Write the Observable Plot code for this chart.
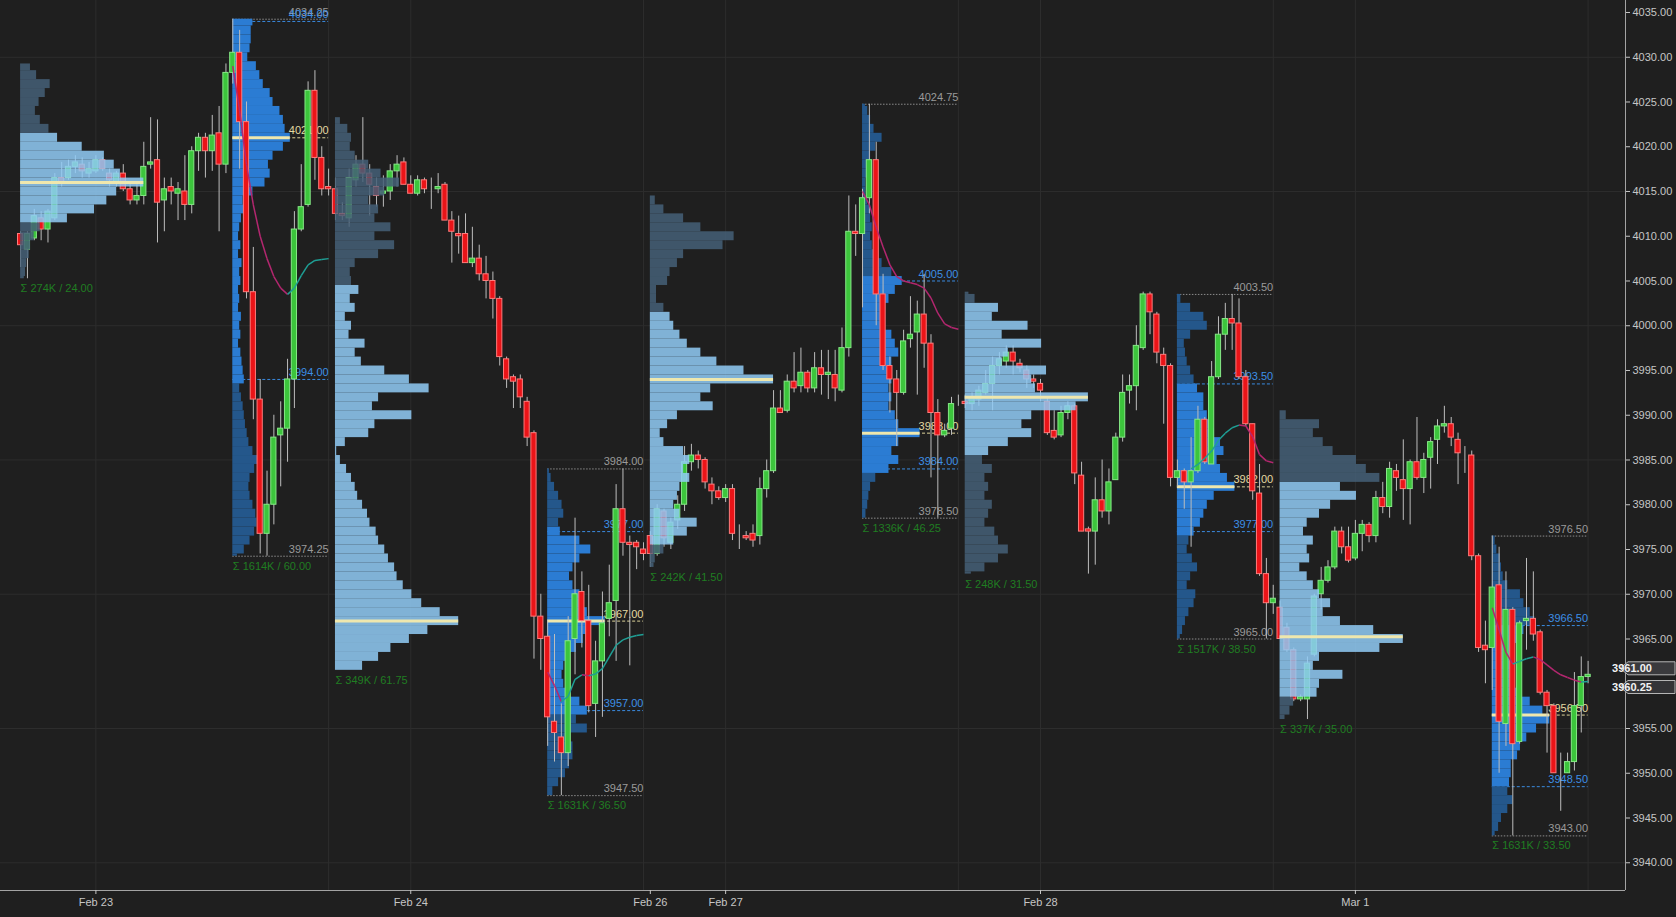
<!DOCTYPE html>
<html><head><meta charset="utf-8">
<script src="https://cdn.jsdelivr.net/npm/d3@7"></script>
<script src="https://cdn.jsdelivr.net/npm/@observablehq/plot@0.6"></script>
<style>
html,body{margin:0;padding:0;background:#1f1f1f;overflow:hidden}
</style></head><body><div id="chart"></div>
<script>
// ---------- DATA ----------
// 30-minute bars: [open, high, low, close], bar index = array index
const ohlc = [
[4010.25,4010.5,4006.5,4009.0],[4008.5,4010.5,4005.25,4010.25],[4009.75,4013.0,4009.5,4012.25],[4012.0,4012.75,4009.5,4010.75],
[4010.75,4013.0,4009.25,4012.75],[4012.0,4017.0,4011.75,4016.5],[4016.5,4018.25,4015.5,4016.0],[4016.5,4018.5,4016.25,4017.75],
[4017.75,4019.0,4017.0,4018.25],[4018.0,4018.75,4016.5,4017.25],[4017.0,4018.25,4016.5,4017.5],[4017.25,4019.0,4017.0,4018.5],
[4018.5,4018.75,4017.25,4017.5],[4017.0,4017.5,4015.5,4016.25],[4016.0,4017.25,4015.5,4017.0],[4017.0,4018.0,4015.0,4015.25],
[4015.25,4016.0,4013.5,4014.0],[4014.0,4015.75,4013.5,4014.5],[4014.5,4020.5,4013.5,4017.75],[4018.0,4023.25,4017.5,4018.25],
[4018.5,4023.0,4009.25,4013.75],[4014.0,4016.5,4010.5,4015.25],[4015.5,4016.5,4013.5,4015.0],[4014.75,4016.0,4011.75,4015.25],
[4015.0,4019.0,4011.75,4013.5],[4013.5,4020.0,4012.5,4019.5],[4019.5,4021.5,4017.25,4021.0],[4021.0,4021.5,4016.5,4019.5],
[4019.5,4023.5,4017.25,4021.25],[4021.5,4024.5,4010.5,4018.0],[4018.0,4029.25,4017.0,4028.25],
[4028.25,4034.25,4027.0,4030.5],[4030.5,4033.0,4017.5,4022.75],[4022.75,4025.0,4003.0,4003.75],[4003.75,4008.75,3989.5,3991.75],
[3991.75,3994.0,3974.5,3976.75],[3976.75,3983.75,3974.25,3980.0],[3980.0,3990.0,3977.75,3987.5],[3987.75,3991.5,3982.0,3988.5],
[3988.5,3996.25,3984.75,3994.0],[3994.0,4012.75,3990.75,4010.75],[4010.75,4018.0,4010.5,4013.25],[4013.5,4027.25,4013.25,4026.25],
[4026.25,4028.5,4016.25,4018.75],[4018.75,4020.0,4014.5,4015.25],[4015.5,4017.5,4014.5,4015.25],
[4015.25,4016.5,4011.75,4012.5],[4012.5,4013.75,4011.75,4012.25],[4012.0,4017.5,4011.0,4016.5],[4016.25,4019.0,4015.5,4018.0],
[4018.0,4023.25,4016.0,4017.0],[4017.0,4018.0,4012.25,4015.75],[4015.5,4016.5,4013.25,4014.5],[4014.75,4016.75,4013.25,4015.0],
[4015.0,4018.0,4014.0,4017.25],[4017.25,4019.0,4015.5,4018.0],[4018.25,4018.75,4015.75,4015.75],[4015.75,4016.75,4014.75,4014.75],
[4014.75,4016.75,4014.5,4016.25],[4016.25,4016.5,4014.75,4015.25],[4015.25,4016.5,4013.0,4015.25],[4015.25,4017.0,4014.75,4015.5],
[4015.75,4016.0,4011.75,4011.75],[4011.75,4012.75,4007.0,4010.5],[4010.25,4012.25,4008.0,4010.0],[4010.25,4012.5,4007.0,4007.0],
[4007.0,4011.0,4006.5,4007.5],[4007.5,4009.0,4005.0,4005.75],[4005.75,4007.75,4003.0,4005.0],[4005.0,4006.0,4000.75,4003.0],
[4003.0,4003.25,3995.5,3996.5],[3996.25,3996.5,3993.0,3994.0],[3994.25,3994.5,3990.75,3993.75],[3994.0,3994.5,3990.75,3992.0],
[3991.5,3992.0,3986.5,3987.5],[3988.0,3988.25,3962.75,3967.5],[3967.5,3970.0,3961.5,3965.0],
[3965.25,3967.0,3953.0,3956.25],[3955.75,3965.5,3951.25,3954.5],[3954.0,3957.75,3947.5,3952.25],[3952.25,3967.5,3950.75,3964.75],
[3965.0,3978.5,3961.0,3970.0],[3970.25,3972.5,3964.0,3967.0],[3967.0,3971.0,3956.75,3957.5],[3957.75,3964.75,3954.0,3962.5],
[3962.5,3970.25,3956.25,3966.75],[3967.25,3973.25,3965.25,3969.0],[3969.25,3982.25,3962.5,3979.5],[3979.5,3984.0,3974.25,3975.75],
[3975.75,3976.5,3962.0,3975.5],[3975.75,3976.0,3972.75,3975.25],[3975.0,3975.75,3973.75,3974.5],
[3976.5,3977.0,3973.0,3974.5],[3974.5,3980.0,3974.25,3979.5],[3979.25,3979.5,3975.25,3976.25],[3975.75,3978.5,3975.0,3978.0],
[3978.25,3981.0,3977.25,3980.0],[3980.0,3986.5,3979.25,3984.75],[3984.75,3986.75,3983.75,3985.5],[3985.5,3986.0,3984.0,3985.0],
[3985.0,3985.25,3981.75,3982.5],[3982.25,3983.0,3980.0,3981.5],[3981.5,3982.0,3980.5,3980.75],[3980.75,3982.25,3980.25,3981.75],
[3981.75,3982.25,3976.0,3976.75],[3976.5,3977.75,3975.0,3976.5],[3976.5,3977.0,3976.0,3976.25],[3976.75,3977.75,3975.25,3976.0],
[3976.5,3983.0,3975.5,3981.75],[3981.75,3985.0,3980.75,3983.75],[3983.75,3992.75,3983.5,3990.75],[3990.75,3992.75,3990.25,3990.25],
[3990.5,3994.5,3990.25,3993.75],[3993.75,3997.0,3992.5,3993.0],[3993.25,3997.5,3992.5,3994.75],[3994.75,3995.0,3992.5,3993.0],
[3993.0,3997.0,3992.5,3995.25],[3995.25,3997.25,3992.25,3994.5],[3994.5,3997.25,3991.75,3994.75],[3994.5,3997.25,3991.5,3993.0],
[3992.75,3999.75,3992.5,3997.5],[3997.5,4014.5,3996.5,4010.5],[4010.5,4013.5,4007.75,4010.25],
[4010.25,4015.25,4002.0,4014.25],[4014.25,4024.75,4012.5,4018.5],[4018.5,4020.5,4000.0,4003.5],[4003.5,4005.75,3995.0,3995.5],
[3995.5,3996.5,3990.25,3994.0],[3994.0,3995.0,3986.5,3992.5],[3992.5,3999.5,3992.25,3998.25],[3998.5,4003.25,3997.5,3999.0],
[3999.25,4002.75,3992.25,4001.25],[4001.25,4005.75,3995.25,3998.0],[3998.0,3999.0,3983.0,3990.25],[3990.25,3991.75,3978.5,3987.75],
[3987.75,3989.0,3987.5,3988.25],[3988.5,3992.0,3987.75,3991.25],[3991.5,3992.25,3991.0,3991.5],
[3991.5,3992.25,3990.75,3991.25],[3991.25,3992.5,3990.5,3992.0],[3991.75,3993.25,3991.0,3992.75],[3992.5,3995.0,3992.25,3993.5],
[3993.5,3996.5,3990.5,3995.5],[3995.5,3997.0,3994.5,3996.25],[3996.0,3997.75,3995.25,3997.0],[3997.0,3997.75,3994.5,3996.0],
[3995.75,3996.25,3994.75,3995.25],[3995.0,3995.5,3993.0,3994.0],[3994.0,3994.5,3993.0,3993.75],[3993.5,3994.0,3991.5,3992.75],
[3991.5,3992.0,3987.75,3988.0],[3988.25,3990.5,3987.25,3987.5],[3987.75,3991.0,3987.5,3990.25],[3990.25,3991.5,3989.5,3991.0],
[3991.0,3991.25,3982.25,3983.5],[3983.25,3984.75,3977.0,3977.0],[3977.25,3977.5,3972.25,3977.0],[3977.0,3983.0,3973.25,3980.5],
[3980.5,3985.0,3978.5,3979.25],[3979.25,3984.0,3977.75,3982.5],[3982.75,3988.0,3982.75,3987.5],[3987.5,3994.5,3987.0,3992.5],
[3992.75,3994.5,3991.25,3993.25],[3993.25,4000.0,3990.5,3997.75],[3997.5,4003.75,3997.25,4003.5],[4003.5,4003.75,3999.0,4001.5],
[4001.25,4001.5,3995.75,3997.0],[3996.75,3997.5,3989.0,3995.5],[3995.5,3995.75,3982.0,3983.0],
[3983.0,3985.0,3982.0,3983.75],[3983.75,3984.0,3979.5,3982.5],[3982.5,3987.5,3975.25,3983.75],[3983.75,3991.0,3983.5,3989.5],
[3989.5,3989.75,3984.5,3984.75],[3984.5,3996.0,3984.5,3994.25],[3994.25,4001.0,3994.0,3999.0],[3999.0,4002.5,3997.25,4000.75],
[4000.75,4003.5,3997.25,4000.25],[4000.25,4003.0,3994.0,3994.25],[3994.25,3995.0,3988.75,3989.0],[3989.0,3989.0,3980.5,3981.5],
[3981.25,3984.5,3972.0,3972.25],[3972.25,3974.0,3965.0,3969.0],[3969.0,3971.0,3967.75,3969.5],
[3968.5,3969.25,3965.0,3965.0],[3966.25,3966.75,3963.5,3963.75],[3963.75,3964.0,3958.0,3958.25],[3958.25,3958.75,3958.0,3958.5],
[3958.25,3963.0,3956.0,3962.25],[3963.25,3970.0,3963.0,3969.75],[3970.0,3973.0,3968.25,3971.5],[3971.5,3973.75,3971.25,3973.0],
[3973.0,3977.5,3972.75,3977.0],[3977.0,3977.5,3974.5,3975.25],[3975.25,3977.5,3973.5,3973.75],[3974.0,3978.25,3973.75,3976.75],
[3976.75,3978.25,3974.75,3977.75],[3977.75,3978.0,3975.75,3976.5],[3976.5,3981.5,3975.75,3980.75],[3980.75,3982.5,3979.0,3979.75],
[3979.75,3984.75,3978.5,3984.0],[3983.75,3984.5,3981.5,3983.0],[3982.75,3987.25,3978.25,3981.75],[3981.75,3985.0,3977.75,3984.75],
[3984.75,3989.75,3982.75,3983.0],[3983.0,3985.75,3981.25,3985.0],[3985.25,3987.5,3981.75,3987.0],[3987.25,3989.5,3984.5,3988.75],
[3988.75,3991.0,3988.0,3989.0],[3989.0,3989.75,3986.5,3987.5],[3987.25,3988.0,3982.25,3985.75],[3985.75,3986.5,3983.5,3985.75],
[3985.5,3986.0,3973.75,3974.25],[3974.25,3974.5,3963.5,3964.0],[3964.25,3967.0,3960.0,3963.75],
[3964.0,3976.5,3959.25,3970.75],[3971.0,3975.25,3950.0,3955.75],[3955.5,3972.5,3953.0,3968.25],[3968.25,3968.5,3943.0,3953.25],
[3953.5,3967.0,3953.25,3966.75],[3967.0,3974.0,3963.75,3967.25],[3967.25,3972.5,3964.75,3965.5],[3965.75,3966.0,3958.75,3959.0],
[3959.0,3959.25,3952.25,3957.5],[3957.5,3957.75,3950.0,3950.0],[3950.0,3952.25,3945.75,3950.0],[3950.0,3952.25,3950.0,3951.25],
[3951.25,3961.25,3950.25,3957.5],[3957.5,3963.0,3954.5,3960.75],[3960.75,3962.5,3960.0,3961.0]
];

// Sessions / volume profiles
const sessionStart = [0,31,46,77,92,123,138,169,184,215];
const sessionType  = ["ETH","RTH","ETH","RTH","ETH","RTH","ETH","RTH","ETH","RTH"];
const profileLow   = [4005.25,3974.25,3961.5,3947.5,3973.0,3978.5,3972.25,3965.0,3956.0,3943.0];
const profileHigh  = [4029.25,4034.25,4023.25,3984.0,4014.5,4024.75,4003.75,4003.5,3991.0,3976.5];
const profilePOC   = [4016.0,4021.0,3967.0,3967.0,3994.0,3988.0,3992.0,3982.0,3965.25,3956.5];
const profileVAH   = [4021.0,4034.0,4004.5,3977.0,4001.5,4005.0,4002.5,3993.5,3982.5,3966.5];
const profileVAL   = [4012.0,3994.0,3961.5,3957.0,3975.5,3984.0,3986.0,3977.0,3958.25,3948.5];
const profileTotal = ["274K","1614K","349K","1631K","242K","1336K","248K","1517K","337K","1631K"];
const profileBase  = [4005,3974,3961,3947,3973,3978,3972,3965,3956,3943]; // price of first 1-pt bin
// relative volume per 1-point bin, from low price to high price
const vol1 = [3,4,5,7,8,11,16,38,60,70,78,100,81,76,68,50,30,23,16,12,15,20,24,13,8];
const vol2 = [8,20,30,38,42,40,35,30,28,30,38,45,35,28,25,22,20,18,15,12,20,18,16,14,10,14,12,15,10,12,10,14,12,16,10,14,10,12,15,20,18,35,56,65,62,70,88,100,91,88,82,70,65,53,47,41,26,30,32,32,35];
const vol3 = [10,22,35,45,60,75,100,85,70,62,55,50,48,43,40,35,33,28,26,22,18,16,13,9,4,1,8,27,32,62,30,35,76,60,40,21,16,24,11,13,8,16,12,19,13,12,16,35,48,32,45,32,35,27,40,52,37,27,16,12,13,10,4];
const vol4 = [5,9,19,31,38,44,44,38,69,50,69,56,38,28,25,28,38,50,62,75,100,69,62,56,44,38,44,56,75,56,22,19,28,25,19,12,6,3];
const vol5 = [3,4,11,19,30,38,24,19,22,24,32,27,32,27,11,8,14,22,51,41,49,100,76,54,41,30,24,19,16,11,5,5,14,16,22,27,59,68,41,27,11,4];
const vol6 = [4,6,9,11,14,23,46,63,51,63,100,63,57,46,51,46,51,46,51,63,57,51,40,34,40,46,57,69,51,34,23,17,14,17,14,14,9,6,6,9,11,14,23,34,20,14,9,5];
const vol7 = [5,16,27,35,27,24,16,19,22,16,19,16,22,14,19,35,54,46,54,90,100,57,54,66,30,35,62,30,51,22,27,8,3];
const vol8 = [5,9,14,20,29,32,17,23,35,26,17,20,29,40,46,52,64,100,87,75,69,81,75,64,58,52,46,46,35,29,23,17,14,12,23,52,46,23,6];
const vol9 = [4,8,11,30,32,51,27,32,81,100,76,49,35,41,32,27,22,16,24,22,27,19,22,32,41,62,49,81,70,62,43,35,27,32,5];
const vol10 = [5,11,16,27,36,27,30,33,33,44,49,60,77,100,88,66,44,38,33,33,38,38,44,55,74,66,55,49,27,19,16,14,8,5];
const profileVolumes = [vol1,vol2,vol3,vol4,vol5,vol6,vol7,vol8,vol9,vol10];

// smoothed session average (per RTH session), one value per bar from maStart
const maStart = [31,77,123,171,215];
const ma1 = [4029,4024,4018,4013.5,4010,4007.5,4005.5,4004.2,4003.5,4004.2,4005.6,4006.8,4007.3,4007.4,4007.5];
const ma2 = [3961.3,3959.8,3958.0,3958.6,3960.5,3961.0,3960.9,3961.1,3961.7,3963.0,3964.3,3964.9,3965.2,3965.4,3965.5];
const ma3 = [4015,4013.5,4011,4008.8,4006.8,4005.5,4005.0,4004.8,4004.6,4004.2,4003.1,4001.4,4000.2,3999.8,3999.6];
const ma4 = [3984.0,3984.5,3985.2,3986.0,3987.2,3988.0,3988.6,3988.9,3988.8,3987.6,3985.6,3984.9,3984.7];
const ma5 = [3968.5,3966.0,3963.5,3962.2,3962.5,3962.8,3963.0,3962.7,3962.1,3961.5,3961.0,3960.7,3960.4,3960.2,3960.25];
const maSeries = [ma1,ma2,ma3,ma4,ma5];

// axes
const priceTicks = [3940,3945,3950,3955,3960,3965,3970,3975,3980,3985,3990,3995,4000,4005,4010,4015,4020,4025,4030,4035];
const hiddenPriceLabel = 3960; // covered by the last-price tag
const gridPrices = [3940,3955,3970,3985,4000,4015,4030];
const dateTickBars = [11,57,92,103,149,195];
const dateTickLabels = ["Feb 23","Feb 24","Feb 26","Feb 27","Feb 28","Mar 1"];
const gridBars = [11,45,57,91,103,137,149,183,195,229];
const lastPrice = 3961.00;
const lastAverage = 3960.25;

// ---------- BUILD ----------
const xDomain = [-2.9364, 234.4631];
const yDomain = [3936.90, 4036.34];
const RTH_LEN = 14;
const candles = ohlc.map(([o,h,l,c], i) => ({i, o, h, l, c, up: c >= o}));
const dateLabel = new Map(dateTickBars.map((b, j) => [b, dateTickLabels[j]]));
const idx = d3.range(sessionStart.length);
const rthIdx = idx.filter(k => sessionType[k] === "RTH");
const ethIdx = idx.filter(k => sessionType[k] === "ETH");
const widthFor = k => sessionType[k] === "ETH" ? 18 : 8.4;

function bins(k) {
  const v = profileVolumes[k], mx = d3.max(v), s = sessionStart[k];
  return v.map((val, j) => {
    const p = profileBase[k] + j;
    return {k, x1: s, x2: s + val / mx * widthFor(k),
      y1: Math.max(p - 0.5, profileLow[k]), y2: Math.min(p + 0.5, profileHigh[k]),
      va: p >= profileVAL[k] && p <= profileVAH[k]};
  }).filter(d => d.y2 > d.y1);
}
const rthBins = rthIdx.flatMap(bins);
const ethBins = ethIdx.flatMap(bins);

const rthLines = rthIdx.flatMap(k => {
  const s = sessionStart[k], e = s + RTH_LEN;
  return [
    {s, e, y: profileHigh[k], kind: "range", fill: "#9a9a9a"},
    {s, e, y: profileLow[k], kind: "range", fill: "#9a9a9a"},
    {s, e, y: profileVAH[k], kind: "va", fill: "#3d8fe6"},
    {s, e, y: profileVAL[k], kind: "va", fill: "#3d8fe6"},
    {s, e, y: profilePOC[k], kind: "poc", fill: "#e3d9a2"}
  ];
});
const pocLines = idx.map(k => ({k, x1: sessionStart[k], x2: sessionStart[k] + widthFor(k), y: profilePOC[k]}));

const maSegs = maSeries.flatMap((arr, m) => arr.slice(1).map((v, j) => ({
  x1: maStart[m] + j, y1: arr[j], x2: maStart[m] + j + 1, y2: v, up: v >= arr[j]})));

function priceTag(value, fill, shift) {
  return (index, scales, values, dims) => {
    const y = scales.y(value) + shift;
    const x0 = dims.width - dims.marginRight;
    const g = d3.create("svg:g");
    g.append("path")
      .attr("d", `M${x0-5},${y} L${x0+3},${y-6.5} H${dims.width-1} V${y+6.5} H${x0+3} Z`)
      .attr("fill", fill).attr("stroke", "#b5b5b5").attr("stroke-width", 1);
    g.append("text").attr("x", x0 + 7).attr("y", y).attr("dy", "0.35em")
      .attr("fill", "#f2f2f2").attr("font-size", 11).attr("font-weight", "bold")
      .attr("font-family", "Liberation Sans, Arial, sans-serif")
      .text(value.toFixed(2));
    return g.node();
  };
}

const chart = Plot.plot({
  width: 1676, height: 917,
  marginLeft: 0, marginRight: 51, marginTop: 0, marginBottom: 27,
  x: {domain: xDomain, axis: null},
  y: {domain: yDomain, axis: null},
  color: {type: "identity"},
  style: {background: "#1f1f1f", color: "#c6c6c6", fontFamily: "Liberation Sans, Arial, sans-serif", fontSize: "11px"},
  marks: [
    Plot.ruleY(gridPrices, {stroke: "#2d2d2d"}),
    Plot.ruleX(gridBars, {stroke: "#2d2d2d"}),
    // RTH reference lines
    Plot.ruleY(rthLines.filter(d => d.kind === "range"), {y: "y", x1: "s", x2: "e", stroke: "#8c8c8c", strokeDasharray: "1.5,1.5"}),
    Plot.ruleY(rthLines.filter(d => d.kind === "va"), {y: "y", x1: "s", x2: "e", stroke: "#3a8be0", strokeDasharray: "3,2"}),
    Plot.ruleY(rthLines.filter(d => d.kind === "poc"), {y: "y", x1: "s", x2: "e", stroke: "#ddd39a", strokeDasharray: "3,2"}),
    // RTH profiles
    Plot.rect(rthBins, {x1: "x1", x2: "x2", y1: "y1", y2: "y2", fill: d => d.va ? "#2b7cd3" : "#24578b"}),
    Plot.ruleY(pocLines.filter(d => sessionType[d.k] === "RTH"), {y: "y", x1: "x1", x2: "x2", stroke: "#efe7ad", strokeWidth: 3}),
    Plot.text(rthLines, {x: "e", y: "y", text: d => d.y.toFixed(2), fill: "fill", textAnchor: "end", dy: -7, fontSize: 11}),
    // candles
    Plot.ruleX(candles, {x: "i", y1: "l", y2: "h", stroke: "#bdbdbd", strokeWidth: 1}),
    Plot.rect(candles, {x1: d => d.i - 0.38, x2: d => d.i + 0.38,
      y1: d => Math.min(d.o, d.c), y2: d => Math.max(d.o, d.c),
      fill: d => d.up ? "#3cc53c" : "#ea1418", stroke: d => d.up ? "#86e886" : "#ff7b7b", strokeWidth: 1}),
    // ETH profiles (drawn over candles)
    Plot.rect(ethBins, {x1: "x1", x2: "x2", y1: "y1", y2: "y2", fill: d => d.va ? "#90cbf5" : "#455f77", fillOpacity: 0.86}),
    Plot.ruleY(pocLines.filter(d => sessionType[d.k] === "ETH"), {y: "y", x1: "x1", x2: "x2", stroke: "#efe7ad", strokeWidth: 3}),
    // session average
    Plot.link(maSegs, {x1: "x1", y1: "y1", x2: "x2", y2: "y2", stroke: d => d.up ? "#1f9f95" : "#b3276f", strokeWidth: 1.5}),
    // totals
    Plot.text(idx, {x: k => sessionStart[k], y: k => profileLow[k],
      text: k => `Σ ${profileTotal[k]} / ${(profileHigh[k] - profileLow[k]).toFixed(2)}`,
      textAnchor: "start", dy: 10, fill: "#1f7d22", fontSize: 11}),
    // axes
    Plot.ruleY([yDomain[0]], {stroke: "#a3a3a3"}),
    Plot.ruleX([xDomain[1]], {stroke: "#a3a3a3"}),
    Plot.axisY(priceTicks, {anchor: "right", tickFormat: d => d === hiddenPriceLabel ? "" : d.toFixed(2), tickSize: 4, tickPadding: 3, fontSize: 11, color: "#c6c6c6"}),
    Plot.axisX(dateTickBars, {anchor: "bottom", tickFormat: d => dateLabel.get(d), tickSize: 4, tickPadding: 4, fontSize: 11, color: "#c6c6c6"}),
    priceTag(lastAverage, "#343437", 6),
    priceTag(lastPrice, "#3a3a3d", -6)
  ]
});
document.getElementById("chart").appendChild(chart);
</script>
</body></html>
